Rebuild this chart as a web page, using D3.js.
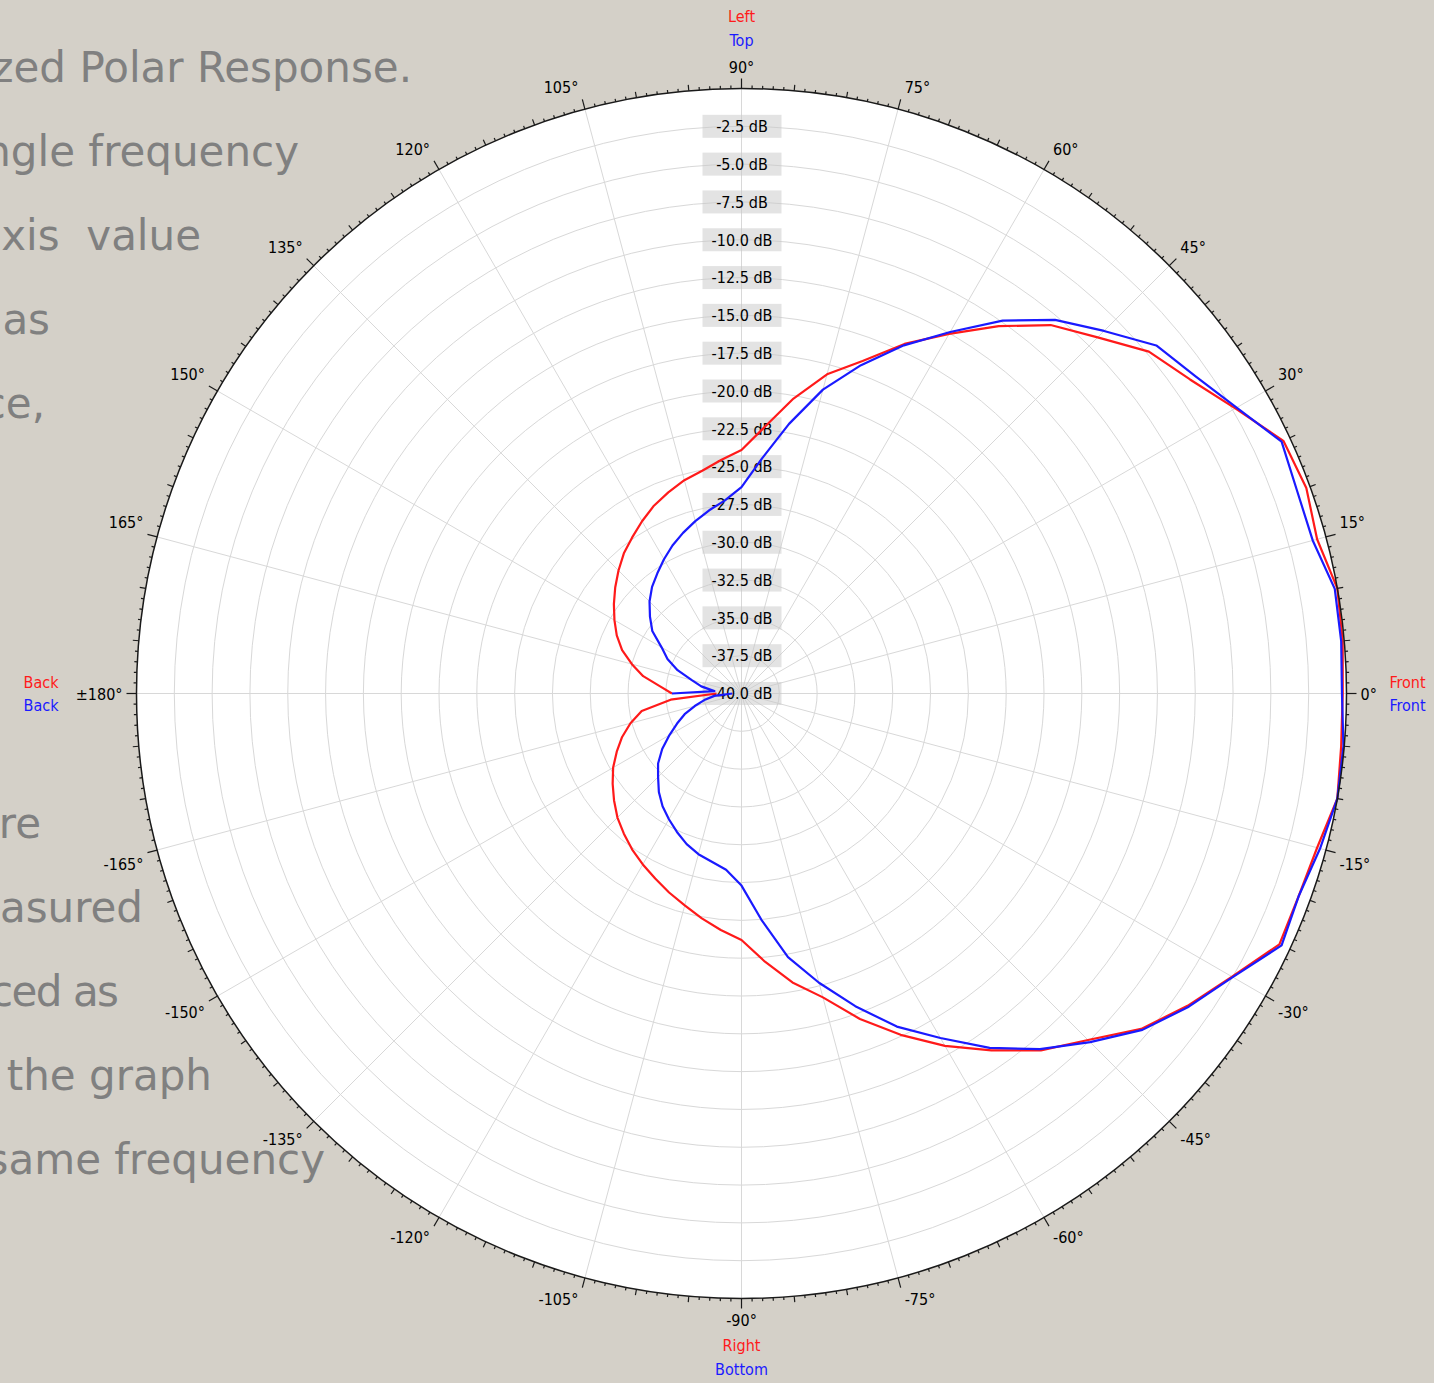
<!DOCTYPE html>
<html>
<head>
<meta charset="utf-8">
<script src="https://cdn.jsdelivr.net/npm/d3@7"></script>
<style>
  html, body { margin: 0; padding: 0; background: #d4d0c8; }
  svg { display: block; }
</style>
</head>
<body>
<svg id="chart" width="1434" height="1383"></svg>
<script>
// Measurement angles in degrees (0 = front, +90 = left/top)
const angles = d3.range(-180, 181, 5);

// Horizontal (Left/Right) polar response, dB
const horizontalDb = [
  -38.35, -35.3, -33.3, -32.4, -31.6, -30.9, -30.2, -29.6, -29.0, -28.4,
  -27.9, -27.4, -26.95, -26.5, -26.0, -25.5, -24.9, -24.3, -23.7, -22.2,
  -20.6, -19.2, -17.1, -15.1, -13.1, -11.2, -9.2, -7.6, -5.5, -4.0,
  -2.55, -0.76, -0.8, -0.6, 0.0, -0.2, -0.25, -0.1, 0.0, -0.6,
  -0.26, -0.47, -2.3, -3.8, -4.84, -6.7, -8.2, -10.35, -12.55, -14.5,
  -16.6, -18.15, -20.2, -22.3, -23.9, -24.5, -25.05, -25.4, -25.85, -26.3,
  -26.85, -27.4, -27.9, -28.5, -29.1, -29.7, -30.3, -30.9, -31.6, -32.5,
  -33.4, -34.6, -35.4
];

// Vertical (Top/Bottom) polar response, dB
const verticalDb = [
  -39.4, -38.2, -37.5, -36.8, -36.0, -35.3, -34.5, -33.6, -32.8, -32.2,
  -31.5, -30.9, -30.4, -29.9, -29.4, -29.0, -28.7, -28.3, -27.3, -25.0,
  -22.3, -20.2, -18.0, -15.7, -13.7, -11.4, -9.3, -7.4, -5.4, -3.9,
  -2.5, -0.6, -0.8, -0.4, 0.0, -0.05, -0.3, -0.2, -0.17, -0.9,
  -0.9, -0.6, -2.2, -3.4, -4.2, -6.1, -7.75, -9.9, -12.4, -14.6,
  -16.9, -19.2, -21.9, -24.4, -26.35, -27.2, -27.7, -28.2, -28.7, -29.2,
  -29.75, -30.3, -30.8, -31.4, -32.1, -32.8, -33.9, -34.6, -35.5, -36.6,
  -37.3, -38.2, -35.4
];

// Radial grid levels (dB) and their labels
const ringLevels = d3.range(-40, 0.1, 2.5);
const ringLabels = ["-40.0 dB", "-37.5 dB", "-35.0 dB", "-32.5 dB", "-30.0 dB", "-27.5 dB",
  "-25.0 dB", "-22.5 dB", "-20.0 dB", "-17.5 dB", "-15.0 dB", "-12.5 dB",
  "-10.0 dB", "-7.5 dB", "-5.0 dB", "-2.5 dB"];

// Angular axis labels
const spokeAngles = d3.range(-165, 181, 15);
const spokeLabels = ["-165°", "-150°", "-135°", "-120°", "-105°", "-90°", "-75°", "-60°",
  "-45°", "-30°", "-15°", "0°", "15°", "30°", "45°", "60°", "75°", "90°",
  "105°", "120°", "135°", "150°", "165°", "±180°"];

// Background slide text lines (clipped at the left edge)
const slideLines = [
  { text: "zed Polar Response.", end: 412, row: 0, ls: 0 },
  { text: "ngle frequency", end: 299, row: 1, ls: 0 },
  { text: "xis\u00a0\u00a0value", end: 201, row: 2, ls: 0 },
  { text: "as", end: 50, row: 3, ls: 0 },
  { text: "ce,", end: 45, row: 4, ls: 0 },
  { text: "re", end: 41, row: 9, ls: 0 },
  { text: "asured", end: 143, row: 10, ls: 0 },
  { text: "ced as", end: 116, row: 11, ls: -1.5 },
  { text: "the graph", end: 212, row: 12, ls: 0 },
  { text: "same frequency", end: 325, row: 13, ls: 0 }
];

const RED = "#ff1a1a", BLUE = "#1a1aff";
const cx = 741.5, cy = 693.5, R = 605;
const labelFont = "'DejaVu Sans Condensed', 'DejaVu Sans', sans-serif";

const svg = d3.select("#chart");

// slide text behind the chart
svg.append("g")
  .selectAll("text")
  .data(slideLines)
  .join("text")
  .attr("x", d => d.end - d.ls)
  .attr("y", d => 82 + d.row * 84)
  .attr("text-anchor", "end")
  .attr("letter-spacing", d => d.ls)
  .attr("font-family", "'DejaVu Sans', sans-serif")
  .attr("font-size", 42)
  .attr("fill", "#808080")
  .text(d => d.text);

const rScale = d3.scaleLinear().domain([-40, 0]).range([0, R]).clamp(true);
const toRad = deg => deg * Math.PI / 180;

const g = svg.append("g").attr("transform", `translate(${cx},${cy})`);

// plot disk
g.append("circle").attr("r", R).attr("fill", "#ffffff");

// concentric dB rings
g.append("g")
  .selectAll("circle")
  .data(ringLevels.filter(v => v > -40 && v < 0))
  .join("circle")
  .attr("r", d => rScale(d))
  .attr("fill", "none")
  .attr("stroke", "#d8d8d8")
  .attr("stroke-width", 1);

// spokes every 15 degrees
g.append("g")
  .selectAll("line")
  .data(d3.range(0, 180, 15))
  .join("line")
  .attr("x1", d => -R * Math.cos(toRad(d)))
  .attr("y1", d => R * Math.sin(toRad(d)))
  .attr("x2", d => R * Math.cos(toRad(d)))
  .attr("y2", d => -R * Math.sin(toRad(d)))
  .attr("stroke", "#d8d8d8")
  .attr("stroke-width", 1);

// dB label boxes along the vertical axis
const dbLabels = g.append("g")
  .selectAll("g")
  .data(ringLevels.slice(0, 16).map((v, i) => ({ v, label: ringLabels[i] })))
  .join("g")
  .attr("transform", d => `translate(0,${-rScale(d.v)})`);
dbLabels.append("rect")
  .attr("x", -39).attr("y", -11.5)
  .attr("width", 79).attr("height", 23)
  .attr("fill", "#c8c8c8")
  .attr("fill-opacity", 0.5);
dbLabels.append("text")
  .attr("text-anchor", "middle")
  .attr("dy", "0.36em")
  .attr("x", 0.5)
  .attr("font-family", labelFont)
  .attr("font-size", 16)
  .attr("fill", "#000")
  .text(d => d.label);

// response curves
const radial = d3.lineRadial()
  .angle(d => toRad(90 - d.a))
  .radius(d => rScale(d.db));

[[horizontalDb, RED], [verticalDb, BLUE]].forEach(([vals, col]) => {
  g.append("path")
    .datum(angles.map((a, i) => ({ a, db: vals[i] })))
    .attr("d", radial)
    .attr("fill", "none")
    .attr("stroke", col)
    .attr("stroke-width", 2.2)
    .attr("stroke-linejoin", "round");
});

// outer rim and degree ticks
const tickLen = d => d % 15 === 0 ? 10 : d % 5 === 0 ? 6 : 3;
g.append("circle").attr("r", R).attr("fill", "none").attr("stroke", "#1a1a1a").attr("stroke-width", 1.5);
g.append("g")
  .selectAll("line")
  .data(d3.range(0, 360, 1))
  .join("line")
  .attr("x1", d => R * Math.cos(toRad(d)))
  .attr("y1", d => -R * Math.sin(toRad(d)))
  .attr("x2", d => (R + tickLen(d)) * Math.cos(toRad(d)))
  .attr("y2", d => -(R + tickLen(d)) * Math.sin(toRad(d)))
  .attr("stroke", "#1a1a1a")
  .attr("stroke-width", 1.2);

// angular labels anchored at the corner facing the tick end
g.append("g")
  .selectAll("text")
  .data(spokeAngles.map((a, i) => ({ a, label: spokeLabels[i] })))
  .join("text")
  .attr("font-family", labelFont)
  .attr("font-size", 16)
  .attr("fill", "#000")
  .each(function (d) {
    const t = toRad(d.a), c = Math.cos(t), s = Math.sin(t);
    const tx = (R + 10) * c, ty = -(R + 10) * s;
    const el = d3.select(this);
    if (Math.abs(c) < 1e-6) el.attr("text-anchor", "middle").attr("x", tx);
    else if (c > 0) el.attr("text-anchor", "start").attr("x", tx + 4);
    else el.attr("text-anchor", "end").attr("x", tx - 4);
    if (Math.abs(s) < 1e-6) el.attr("y", ty + 6);
    else if (s > 0) el.attr("y", ty - 6);
    else el.attr("y", ty + 17);
  })
  .text(d => d.label);

// direction names around the rim
const dirNames = [
  { text: "Left", color: RED, x: 0, y: -R - 72.5 },
  { text: "Top", color: BLUE, x: 0, y: -R - 48.5 },
  { text: "Right", color: RED, x: 0, y: R + 46.5 },
  { text: "Bottom", color: BLUE, x: 0, y: R + 70.5 },
  { text: "Front", color: RED, x: R + 61, y: -11.5 },
  { text: "Front", color: BLUE, x: R + 61, y: 11.5 },
  { text: "Back", color: RED, x: -R - 95.5, y: -11.5 },
  { text: "Back", color: BLUE, x: -R - 95.5, y: 11.5 }
];
g.append("g")
  .selectAll("text")
  .data(dirNames)
  .join("text")
  .attr("x", d => d.x)
  .attr("y", d => d.y)
  .attr("dy", "0.36em")
  .attr("text-anchor", "middle")
  .attr("font-family", labelFont)
  .attr("font-size", 16)
  .attr("fill", d => d.color)
  .text(d => d.text);
</script>
</body>
</html>
